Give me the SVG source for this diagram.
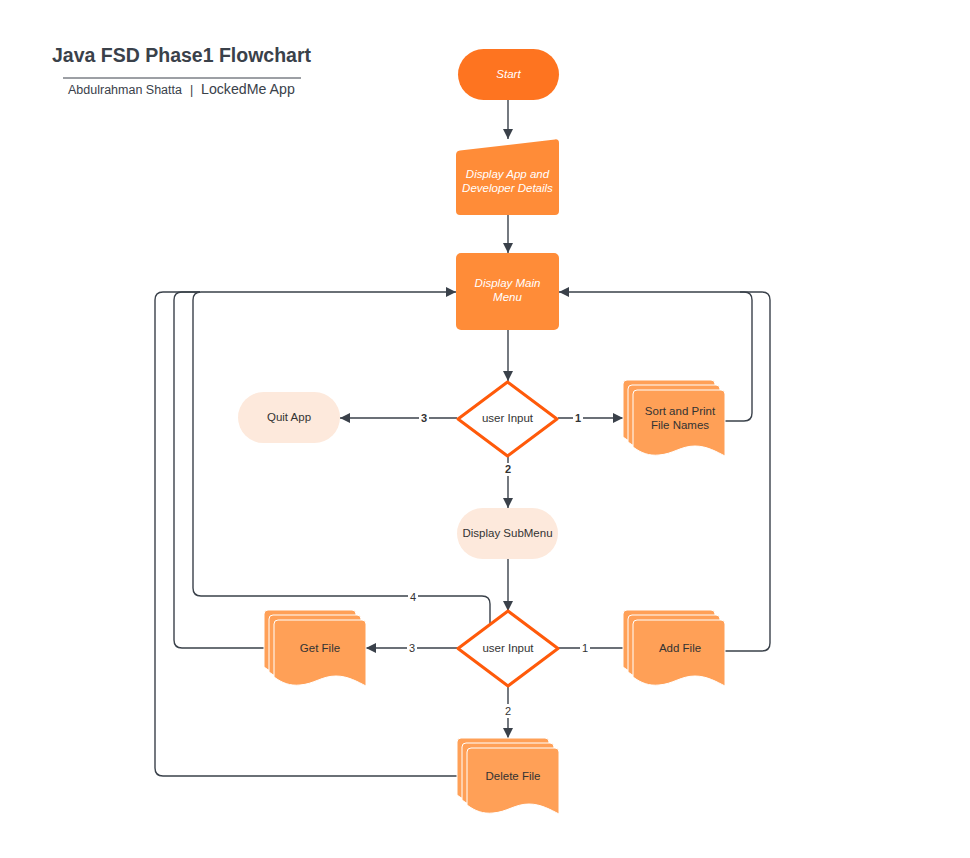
<svg xmlns="http://www.w3.org/2000/svg" xmlns:xlink="http://www.w3.org/1999/xlink" width="970" height="858" viewBox="0 0 970 858">
<style>
.t{font-family:"Liberation Sans",Arial,sans-serif;}
.wi{font-family:"Liberation Sans",Arial,sans-serif;font-size:11.5px;font-style:italic;fill:#ffffff;text-anchor:middle;}
.dk{font-family:"Liberation Sans",Arial,sans-serif;font-size:11.5px;fill:#333333;text-anchor:middle;}
.lbl{font-family:"Liberation Sans",Arial,sans-serif;font-size:11px;fill:#333333;text-anchor:middle;}
.ln{fill:none;stroke:#3a414a;stroke-width:1.4;stroke-linejoin:round;}
.doc{fill:#ffa057;stroke:#ffffff;stroke-width:1;}
.dia{fill:#ffffff;stroke:#ff5a0a;stroke-width:3;stroke-linejoin:round;}
.pale{fill:#fde9dc;}
.org{fill:#ff8c38;}
</style>
<defs>
<marker id="ah" viewBox="0 0 10 10" refX="10" refY="5" markerWidth="10" markerHeight="10" markerUnits="userSpaceOnUse" orient="auto">
<path d="M0,0 L10,5 L0,10 Z" fill="#3a414a"/>
</marker>
<path id="doc" d="M0,4 Q0,0 4,0 L88,0 Q92,0 92,4 L92,66 C84,62 74,56 62,56 C48,56 40,64 26,65 C16,66 8,63 0,57 Z"/>
</defs>

<g id="title">
<text class="t" x="52" y="62" font-size="19.5" font-weight="bold" fill="#3a414a">Java FSD Phase1 Flowchart</text>
<line x1="63" y1="78" x2="301" y2="78" stroke="#3a414a" stroke-width="1"/>
<text class="t" x="68" y="94" font-size="12.5" fill="#3a414a">Abdulrahman Shatta</text>
<text class="t" x="190" y="94" font-size="12.5" fill="#3a414a">|</text>
<text class="t" x="201" y="94" font-size="14.2" fill="#3a414a">LockedMe App</text>
</g>

<g id="connectors">
<path class="ln" d="M508,100 L508,139" marker-end="url(#ah)"/>
<path class="ln" d="M508,215 L508,253" marker-end="url(#ah)"/>
<path class="ln" d="M508,330 L508,381" marker-end="url(#ah)"/>
<path class="ln" d="M457,418 L340,418" marker-end="url(#ah)" stroke-width="2"/>
<path class="ln" d="M558,418 L623,418" marker-end="url(#ah)" stroke-width="2"/>
<path class="ln" d="M508,456 L508,508" marker-end="url(#ah)" stroke-width="2"/>
<path class="ln" d="M725,421 L744,421 Q752,421 752,413 L752,300 Q752,292 744,292 L559,292" marker-end="url(#ah)"/>
<path class="ln" d="M725,651 L762,651 Q770,651 770,643 L770,300 Q770,292 762,292 L740,292"/>
<path class="ln" d="M508,559 L508,611" marker-end="url(#ah)"/>
<path class="ln" d="M490,624 L490,604 Q490,596 482,596 L201,596 Q193,596 193,588 L193,300 Q193,292 201,292 L456,292" marker-end="url(#ah)"/>
<path class="ln" d="M264,648 L182,648 Q174,648 174,640 L174,300 Q174,292 182,292 L200,292"/>
<path class="ln" d="M457,776 L163,776 Q155,776 155,768 L155,300 Q155,292 163,292 L200,292"/>
<path class="ln" d="M458,648 L366,648" marker-end="url(#ah)" stroke-width="2"/>
<path class="ln" d="M558,648 L623,648" stroke-width="2"/>
<path class="ln" d="M508,686 L508,704"/>
<path class="ln" d="M508,718 L508,738" marker-end="url(#ah)"/>
<rect x="419" y="411" width="10" height="13" fill="#ffffff"/>
<text class="lbl" x="424" y="422" font-weight="bold">3</text>
<rect x="573" y="411" width="10" height="13" fill="#ffffff"/>
<text class="lbl" x="578" y="422" font-weight="bold">1</text>
<rect x="503" y="463" width="10" height="13" fill="#ffffff"/>
<text class="lbl" x="508" y="473" font-weight="bold">2</text>
<rect x="408" y="590" width="10" height="13" fill="#ffffff"/>
<text class="lbl" x="413" y="601">4</text>
<rect x="407" y="641" width="10" height="13" fill="#ffffff"/>
<text class="lbl" x="412" y="652">3</text>
<rect x="580" y="641" width="10" height="13" fill="#ffffff"/>
<text class="lbl" x="585" y="652">1</text>
<text class="lbl" x="508" y="715">2</text>
</g>

<g id="start">
<rect x="458" y="49" width="101" height="51" rx="25.5" fill="#fe7420"/>
<text class="wi" x="508.5" y="78">Start</text>
</g>

<g id="display-app">
<path class="org" d="M456,155 Q456,151 460,150.6 L555,139.4 Q559,139 559,143 L559,211 Q559,215 555,215 L460,215 Q456,215 456,211 Z"/>
<text class="wi" x="507.5" y="178">Display App and</text>
<text class="wi" x="507.5" y="192">Developer Details</text>
</g>

<g id="main-menu">
<rect class="org" x="456" y="253" width="103" height="77" rx="5"/>
<text class="wi" x="507.5" y="287">Display Main</text>
<text class="wi" x="507.5" y="301">Menu</text>
</g>

<g id="input1">
<path class="dia" d="M507.5,382 L557,419 L507.5,456 L458,419 Z"/>
<text class="dk" x="507.5" y="422">user Input</text>
</g>

<g id="quit">
<rect class="pale" x="238" y="392" width="102" height="51" rx="25.5"/>
<text class="dk" x="289" y="421">Quit App</text>
</g>

<g id="sort">
<use href="#doc" xlink:href="#doc" x="623" y="380" class="doc"/>
<use href="#doc" xlink:href="#doc" x="628" y="385" class="doc"/>
<use href="#doc" xlink:href="#doc" x="633" y="390" class="doc"/>
<text class="dk" x="680" y="415">Sort and Print</text>
<text class="dk" x="680" y="429">File Names</text>
</g>

<g id="submenu">
<rect class="pale" x="457" y="508" width="101" height="51" rx="25.5"/>
<text class="dk" x="507.5" y="537">Display SubMenu</text>
</g>

<g id="input2">
<path class="dia" d="M508,611 L558,648.5 L508,686 L458,648.5 Z"/>
<text class="dk" x="508" y="652">user Input</text>
</g>

<g id="get-file">
<use href="#doc" xlink:href="#doc" x="264" y="610" class="doc"/>
<use href="#doc" xlink:href="#doc" x="269" y="615" class="doc"/>
<use href="#doc" xlink:href="#doc" x="274" y="620" class="doc"/>
<text class="dk" x="320" y="652">Get File</text>
</g>

<g id="add-file">
<use href="#doc" xlink:href="#doc" x="623" y="610" class="doc"/>
<use href="#doc" xlink:href="#doc" x="628" y="615" class="doc"/>
<use href="#doc" xlink:href="#doc" x="633" y="620" class="doc"/>
<text class="dk" x="680" y="652">Add File</text>
</g>

<g id="delete-file">
<use href="#doc" xlink:href="#doc" x="457" y="738" class="doc"/>
<use href="#doc" xlink:href="#doc" x="462" y="743" class="doc"/>
<use href="#doc" xlink:href="#doc" x="467" y="748" class="doc"/>
<text class="dk" x="513" y="780">Delete File</text>
</g>
</svg>
